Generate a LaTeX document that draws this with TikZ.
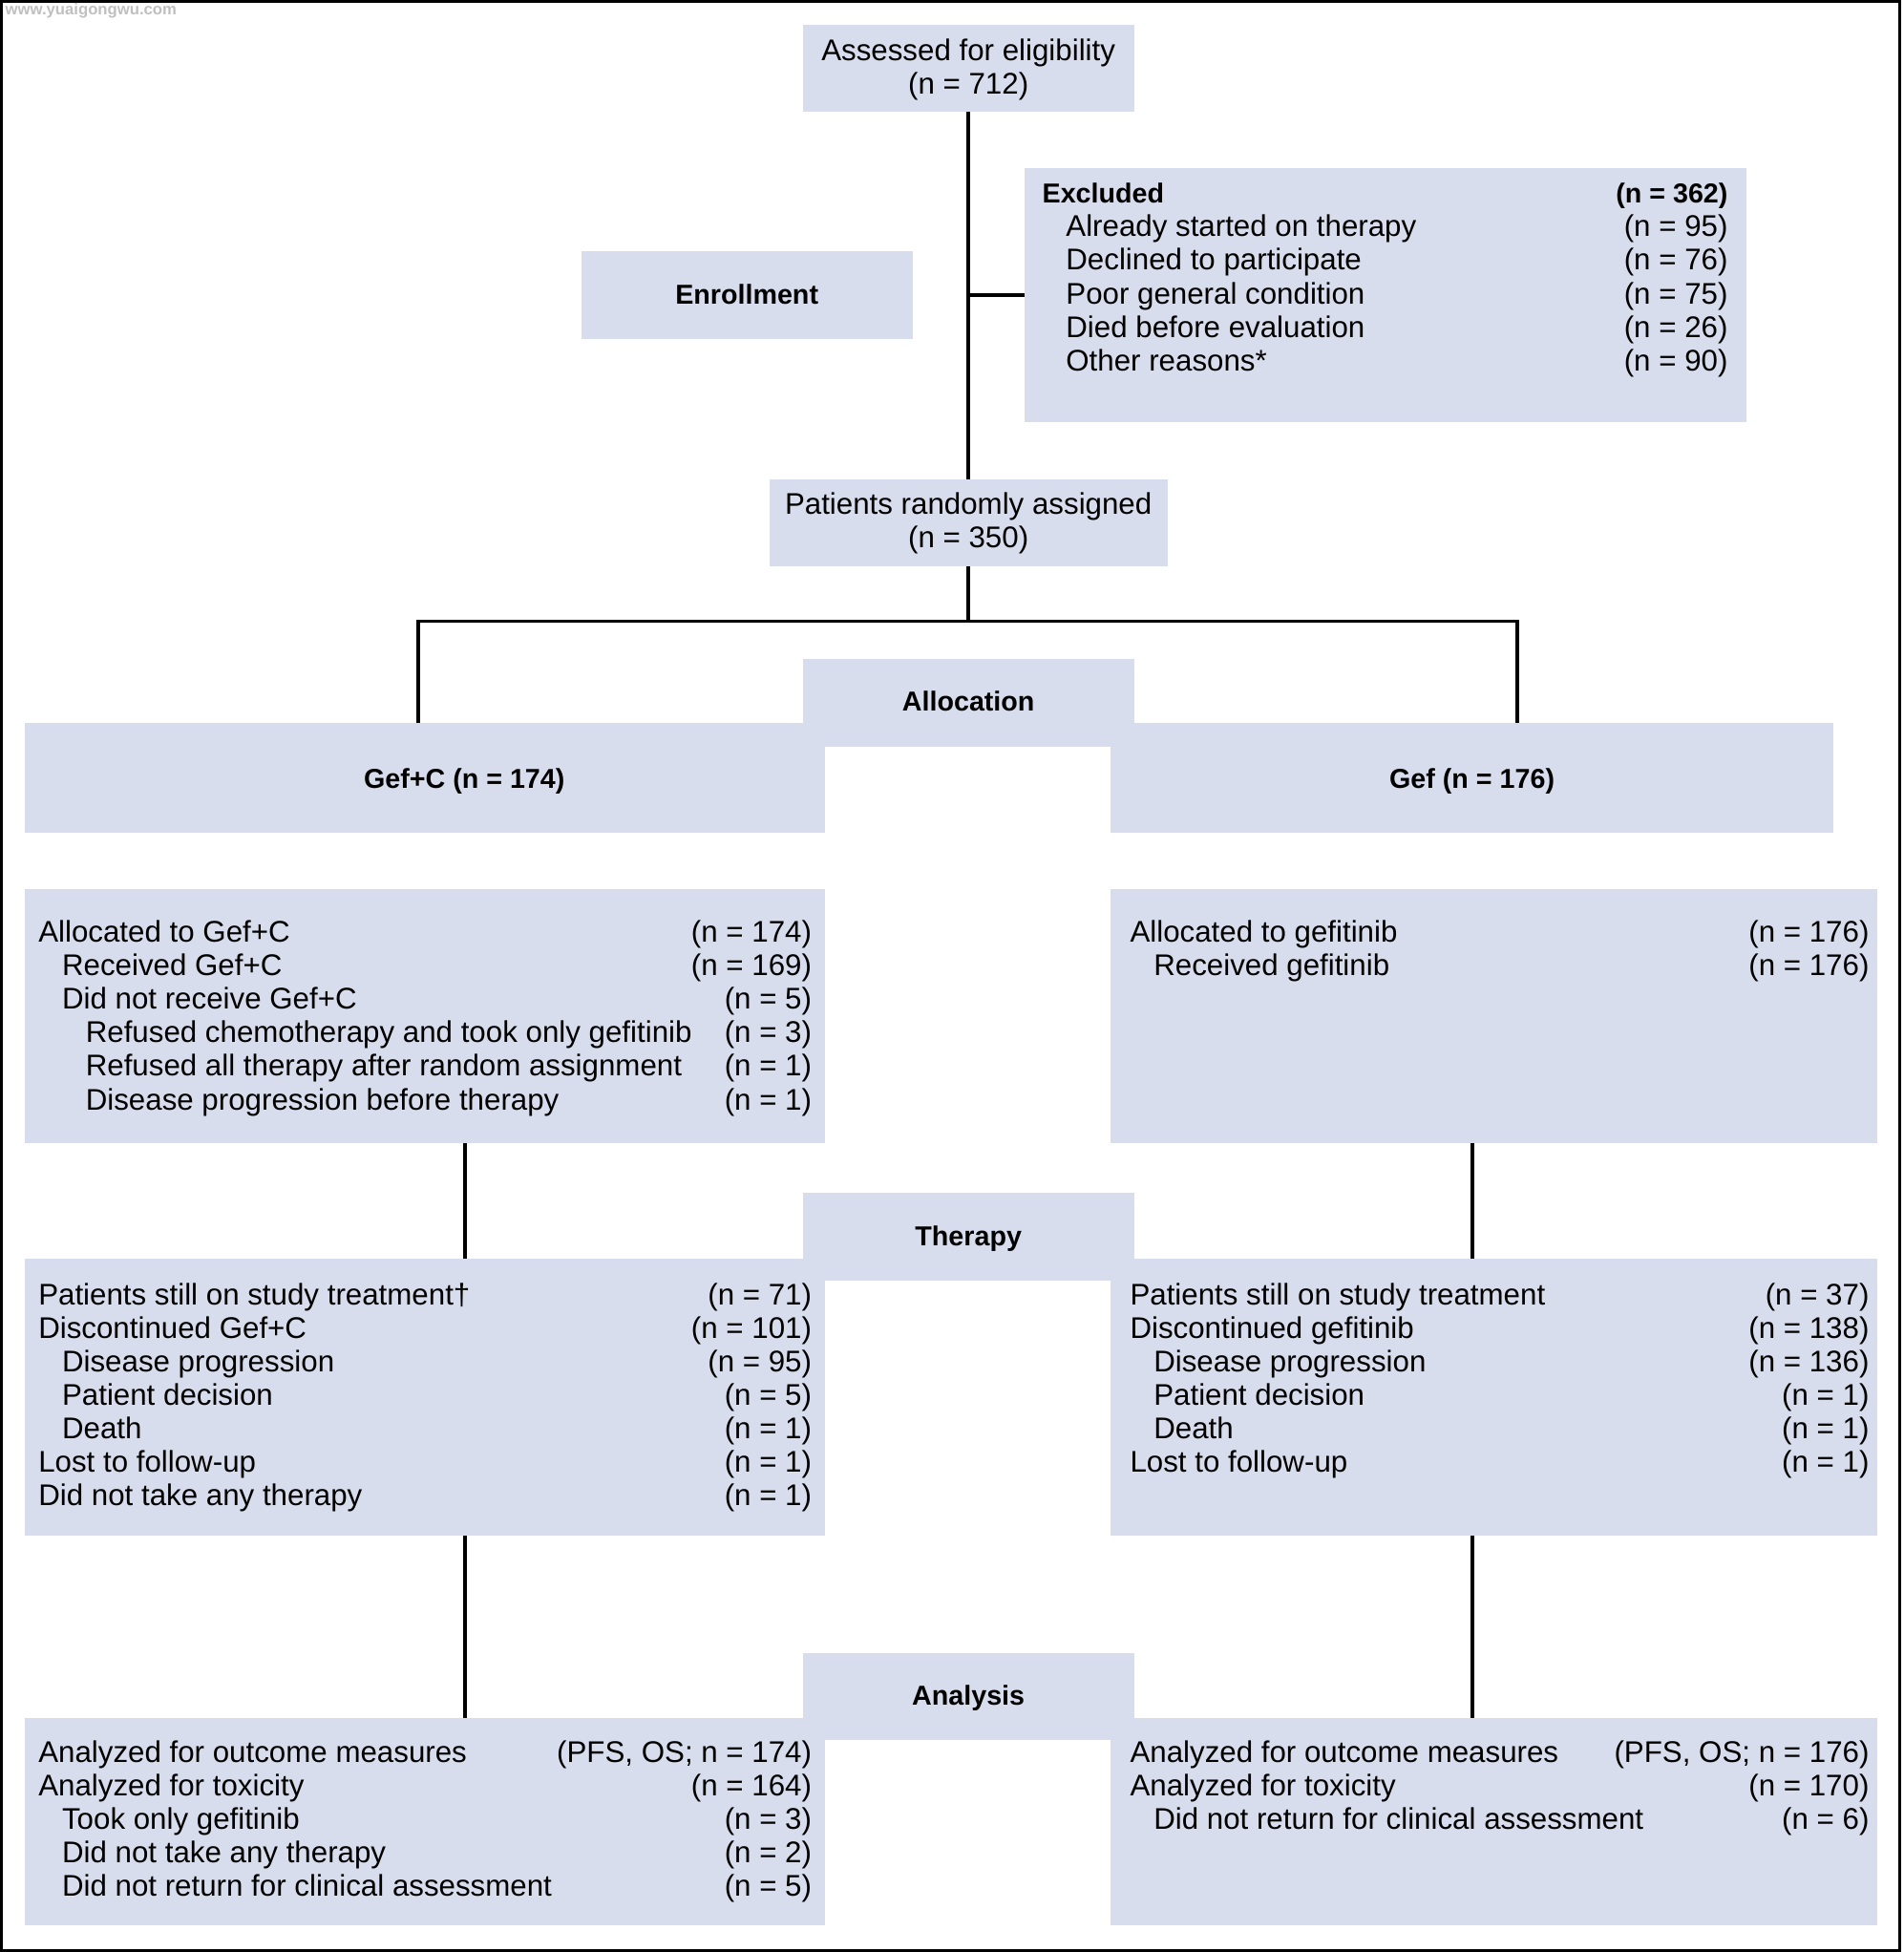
\documentclass[tikz,border=0pt]{standalone}
\usepackage{fontspec}
\setmainfont{Liberation Sans}
\definecolor{boxc}{RGB}{216,221,237}
\newcommand\myreg{\fontsize{12pt}{13.5pt}\selectfont}
\newcommand\mybold{\fontsize{11pt}{13pt}\selectfont\bfseries}
\tikzset{
  box/.style={fill=boxc, draw=none, inner sep=0pt, outer sep=0pt},
  lt/.style={anchor=base west, inner sep=0pt, font=\myreg},
  rt/.style={anchor=base east, inner sep=0pt, font=\myreg},
  ct/.style={anchor=base, inner sep=0pt, font=\myreg},
  bt/.style={anchor=base, inner sep=0pt, font=\mybold},
  blt/.style={anchor=base west, inner sep=0pt, font=\mybold},
  brt/.style={anchor=base east, inner sep=0pt, font=\mybold},
  conn/.style={line width=1.45pt, draw=black},
}
\begin{document}
\begin{tikzpicture}[x=0.5pt,y=-0.5pt]
\useasboundingbox (0,0) rectangle (1529,1568);
\draw[line width=1.2pt] (1.2,1.2) rectangle (1526,1566.8);
\node[anchor=west, inner sep=0pt, text=black!25, font=\fontsize{6.4pt}{7pt}\selectfont\bfseries] (wm) at (4,8.5) {www.yuaigongwu.com};

% boxes
\node[box, minimum width=133pt, minimum height=35pt] (assess) at (778,55) {};
\node[box, minimum width=290pt, minimum height=102pt] (excl) at (1113,237) {};
\node[box, minimum width=133pt, minimum height=35pt] (enroll) at (600,237) {};
\node[box, minimum width=160pt, minimum height=35pt] (rand) at (778,420) {};
\node[box, minimum width=133pt, minimum height=35.5pt] (alloclab) at (778,564.5) {};
\node[box, minimum width=321.5pt, minimum height=44pt] (gefc) at (341.5,625) {};
\node[box, minimum width=290.5pt, minimum height=44pt] (gef) at (1182.5,625) {};
\node[box, minimum width=321.5pt, minimum height=102.25pt] (allocL) at (341.5,816.25) {};
\node[box, minimum width=308.25pt, minimum height=102.25pt] (allocR) at (1200.25,816.25) {};
\node[box, minimum width=133pt, minimum height=35.5pt] (therlab) at (778,993.5) {};
\node[box, minimum width=321.5pt, minimum height=111.2pt] (therL) at (341.5,1122.2) {};
\node[box, minimum width=308.25pt, minimum height=111.2pt] (therR) at (1200.25,1122.2) {};
\node[box, minimum width=133pt, minimum height=35pt] (anallab) at (778,1363) {};
\node[box, minimum width=321.5pt, minimum height=83.25pt] (analL) at (341.5,1463.25) {};
\node[box, minimum width=308.25pt, minimum height=83.25pt] (analR) at (1200.25,1463.25) {};

% connectors
\draw[conn] (assess.south) -- (rand.north);
\draw[conn] (assess.south |- excl.west) -- (excl.west);
\coordinate (sL) at (336,499);
\coordinate (sR) at (1219,499);
\draw[conn] (rand.south) -- (rand.south |- sL);
\draw[conn] (sL |- gefc.north) -- (sL) -- (sR) -- (sR |- gef.north);
\coordinate (cL) at (373.5,0);
\coordinate (cR) at (1182.6,0);
\draw[conn] (cL |- allocL.south) -- (cL |- therL.north);
\draw[conn] (cR |- allocR.south) -- (cR |- therR.north);
\draw[conn] (cL |- therL.south) -- (cL |- analL.north);
\draw[conn] (cR |- therR.south) -- (cR |- analR.north);

% centred texts
\node[ct] (as1) at (778,48.5) {Assessed for eligibility};
\node[ct] (as2) at (778,75.5) {(n = 712)};
\node[bt] (enr) at (600,244.5) {Enrollment};
\node[ct] (ra1) at (778,413) {Patients randomly assigned};
\node[ct] (ra2) at (778,440) {(n = 350)};
\node[bt] (allt) at (778,571.5) {Allocation};
\node[bt] (gefct) at (373,633) {Gef+C (n = 174)};
\node[bt] (geft) at (1182.6,633) {Gef (n = 176)};
\node[bt] (thert) at (778,1000.5) {Therapy};
\node[bt] (analt) at (778,1370) {Analysis};

% excluded
\node[blt] (ex0) at (837,163) {Excluded};
\node[brt] (ex0n) at (1388.5,163) {(n = 362)};
\node[lt] (ex1) at (856,190) {Already started on therapy};
\node[rt] (ex1n) at (1388.5,190) {(n = 95)};
\node[lt] (ex2) at (856,217) {Declined to participate};
\node[rt] (ex2n) at (1388.5,217) {(n = 76)};
\node[lt] (ex3) at (856,244) {Poor general condition};
\node[rt] (ex3n) at (1388.5,244) {(n = 75)};
\node[lt] (ex4) at (856,271) {Died before evaluation};
\node[rt] (ex4n) at (1388.5,271) {(n = 26)};
\node[lt] (ex5) at (856,298) {Other reasons*};
\node[rt] (ex5n) at (1388.5,298) {(n = 90)};

% allocation left
\node[lt] (al1) at (30.5,756.5) {Allocated to Gef+C};
\node[rt] (al1n) at (652.5,756.5) {(n = 174)};
\node[lt] (al2) at (49.5,783.5) {Received Gef+C};
\node[rt] (al2n) at (652.5,783.5) {(n = 169)};
\node[lt] (al3) at (49.5,810.5) {Did not receive Gef+C};
\node[rt] (al3n) at (652.5,810.5) {(n = 5)};
\node[lt] (al4) at (68.5,837.5) {Refused chemotherapy and took only gefitinib};
\node[rt] (al4n) at (652.5,837.5) {(n = 3)};
\node[lt] (al5) at (68.5,864.5) {Refused all therapy after random assignment};
\node[rt] (al5n) at (652.5,864.5) {(n = 1)};
\node[lt] (al6) at (68.5,891.5) {Disease progression before therapy};
\node[rt] (al6n) at (652.5,891.5) {(n = 1)};

% allocation right
\node[lt] (ar1) at (907.5,756.5) {Allocated to gefitinib};
\node[rt] (ar1n) at (1502,756.5) {(n = 176)};
\node[lt] (ar2) at (926.5,783.5) {Received gefitinib};
\node[rt] (ar2n) at (1502,783.5) {(n = 176)};

% therapy left
\node[lt] (tl1) at (30.5,1048.5) {Patients still on study treatment†};
\node[rt] (tl1n) at (652.5,1048.5) {(n = 71)};
\node[lt] (tl2) at (30.5,1075.4) {Discontinued Gef+C};
\node[rt] (tl2n) at (652.5,1075.4) {(n = 101)};
\node[lt] (tl3) at (49.5,1102.2) {Disease progression};
\node[rt] (tl3n) at (652.5,1102.2) {(n = 95)};
\node[lt] (tl4) at (49.5,1129.1) {Patient decision};
\node[rt] (tl4n) at (652.5,1129.1) {(n = 5)};
\node[lt] (tl5) at (49.5,1155.9) {Death};
\node[rt] (tl5n) at (652.5,1155.9) {(n = 1)};
\node[lt] (tl6) at (30.5,1182.8) {Lost to follow-up};
\node[rt] (tl6n) at (652.5,1182.8) {(n = 1)};
\node[lt] (tl7) at (30.5,1209.6) {Did not take any therapy};
\node[rt] (tl7n) at (652.5,1209.6) {(n = 1)};

% therapy right
\node[lt] (tr1) at (907.5,1048.5) {Patients still on study treatment};
\node[rt] (tr1n) at (1502,1048.5) {(n = 37)};
\node[lt] (tr2) at (907.5,1075.4) {Discontinued gefitinib};
\node[rt] (tr2n) at (1502,1075.4) {(n = 138)};
\node[lt] (tr3) at (926.5,1102.2) {Disease progression};
\node[rt] (tr3n) at (1502,1102.2) {(n = 136)};
\node[lt] (tr4) at (926.5,1129.1) {Patient decision};
\node[rt] (tr4n) at (1502,1129.1) {(n = 1)};
\node[lt] (tr5) at (926.5,1155.9) {Death};
\node[rt] (tr5n) at (1502,1155.9) {(n = 1)};
\node[lt] (tr6) at (907.5,1182.8) {Lost to follow-up};
\node[rt] (tr6n) at (1502,1182.8) {(n = 1)};

% analysis left
\node[lt] (nl1) at (30.5,1416) {Analyzed for outcome measures};
\node[rt] (nl1n) at (652.5,1416) {(PFS, OS; n = 174)};
\node[lt] (nl2) at (30.5,1442.7) {Analyzed for toxicity};
\node[rt] (nl2n) at (652.5,1442.7) {(n = 164)};
\node[lt] (nl3) at (49.5,1469.4) {Took only gefitinib};
\node[rt] (nl3n) at (652.5,1469.4) {(n = 3)};
\node[lt] (nl4) at (49.5,1496.1) {Did not take any therapy};
\node[rt] (nl4n) at (652.5,1496.1) {(n = 2)};
\node[lt] (nl5) at (49.5,1522.8) {Did not return for clinical assessment};
\node[rt] (nl5n) at (652.5,1522.8) {(n = 5)};

% analysis right
\node[lt] (nr1) at (907.5,1416) {Analyzed for outcome measures};
\node[rt] (nr1n) at (1502,1416) {(PFS, OS; n = 176)};
\node[lt] (nr2) at (907.5,1442.7) {Analyzed for toxicity};
\node[rt] (nr2n) at (1502,1442.7) {(n = 170)};
\node[lt] (nr3) at (926.5,1469.4) {Did not return for clinical assessment};
\node[rt] (nr3n) at (1502,1469.4) {(n = 6)};
\end{tikzpicture}
\end{document}
